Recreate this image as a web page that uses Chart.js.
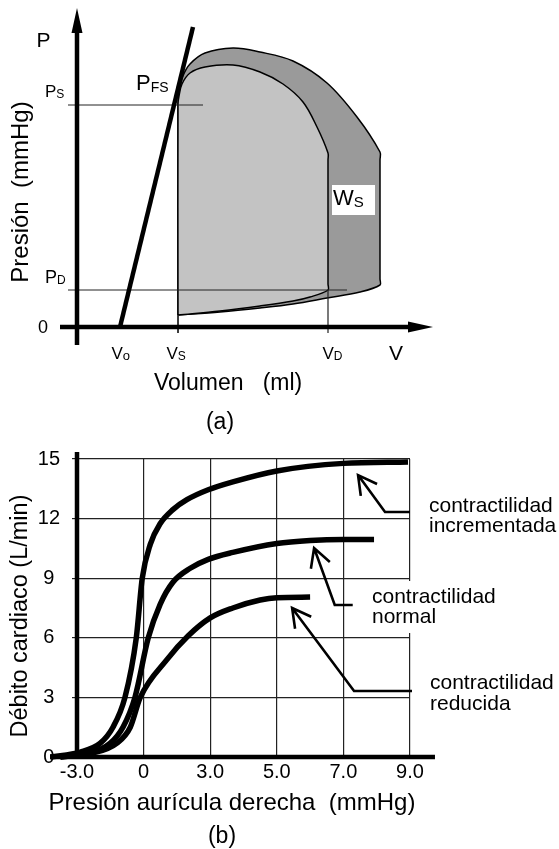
<!DOCTYPE html>
<html>
<head>
<meta charset="utf-8">
<script src="https://cdn.jsdelivr.net/npm/chart.js@4.4.1/dist/chart.umd.min.js"></script>
<style>
  html, body { margin: 0; padding: 0; background: #fff; }
  #wrap { position: relative; width: 559px; height: 849px; }
  canvas { position: absolute; left: 0; top: 0; }
</style>
</head>
<body>
<div id="wrap">
  <canvas id="chartA" width="559" height="849"></canvas>
  <canvas id="chartB" width="559" height="849"></canvas>
</div>
<script>
const FONT = "'Liberation Sans', Arial, Helvetica, sans-serif";

// ---- (a) pressure-volume loop (schematic) ----
const Vo = 21.5, Vs = 50.5, Vd = 125.5;
const Ps = 111, Pd = 18.5;
const espvrLine = [{x: 21.5, y: 0}, {x: 58, y: 150}];
const innerLoop = [
  {x: 50.5, y: 6}, {x: 50.5, y: 8}, {x: 50.5, y: 111.5}, {x: 51, y: 115.5},
  {x: 52.5, y: 121.5}, {x: 56.5, y: 127}, {x: 64, y: 130}, {x: 78, y: 131},
  {x: 91.5, y: 127.5}, {x: 103, y: 121.5}, {x: 113, y: 112.5}, {x: 120, y: 100},
  {x: 125.5, y: 87}, {x: 125.5, y: 83.5}, {x: 125.5, y: 21.5}, {x: 125.5, y: 18.5},
  {x: 116.5, y: 15}, {x: 108, y: 13}, {x: 91.5, y: 10.5}, {x: 71.5, y: 8}, {x: 50.5, y: 6}
];
const outerLoop = [
  {x: 50.5, y: 6}, {x: 50.5, y: 8}, {x: 50.5, y: 111.5}, {x: 51, y: 117.5},
  {x: 53, y: 125.5}, {x: 56.5, y: 131.5}, {x: 64, y: 137}, {x: 78, y: 139.5},
  {x: 91.5, y: 137.5}, {x: 108, y: 133}, {x: 125, y: 122}, {x: 140, y: 105},
  {x: 151.5, y: 87.5}, {x: 151.5, y: 83.5}, {x: 151.5, y: 24}, {x: 151.5, y: 21},
  {x: 141.5, y: 17.5}, {x: 125, y: 14.5}, {x: 108, y: 11.5}, {x: 91.5, y: 9.5},
  {x: 71.5, y: 7.5}, {x: 50.5, y: 6}
];

// ---- (b) cardiac output vs right atrial pressure ----
// x is the position along the evenly spaced ticks (0 = "-3.0" ... 5 = "9.0")
const xTickLabels = ['-3.0', '0', '3.0', '5.0', '7.0', '9.0'];
const increased = [
  {x: -0.4, y: 0}, {x: 0.05, y: 0.25}, {x: 0.35, y: 0.7}, {x: 0.54, y: 1.5},
  {x: 0.72, y: 3}, {x: 0.89, y: 6}, {x: 0.98, y: 9}, {x: 1.1, y: 10.7},
  {x: 1.25, y: 11.75}, {x: 1.44, y: 12.45}, {x: 1.65, y: 12.95}, {x: 1.97, y: 13.45},
  {x: 2.34, y: 13.85}, {x: 3.0, y: 14.4}, {x: 4.0, y: 14.78}, {x: 4.97, y: 14.85}
];
const normal = [
  {x: -0.25, y: 0}, {x: 0.2, y: 0.2}, {x: 0.5, y: 0.7}, {x: 0.69, y: 1.5},
  {x: 0.87, y: 3}, {x: 1.07, y: 6}, {x: 1.25, y: 7.7}, {x: 1.44, y: 8.8},
  {x: 1.7, y: 9.5}, {x: 1.97, y: 9.95}, {x: 2.34, y: 10.3}, {x: 3.0, y: 10.75},
  {x: 3.5, y: 10.9}, {x: 4.0, y: 10.95}, {x: 4.46, y: 10.95}
];
const reduced = [
  {x: -0.25, y: 0}, {x: 0.24, y: 0.2}, {x: 0.6, y: 0.7}, {x: 0.8, y: 1.5},
  {x: 0.95, y: 3}, {x: 1.35, y: 4.9}, {x: 1.67, y: 6.1}, {x: 2.0, y: 7.0},
  {x: 2.34, y: 7.5}, {x: 2.75, y: 7.9}, {x: 3.0, y: 8.02}, {x: 3.5, y: 8.05}
];
// arrows: tip first, then the bend, then the tail end
const arrowIncreased = [{x: 4.22, y: 14.19}, {x: 4.625, y: 12.33}, {x: 5.0, y: 12.33}];
const arrowNormal = [{x: 3.56, y: 10.52}, {x: 3.87, y: 7.65}, {x: 4.14, y: 7.65}];
const arrowReduced = [{x: 3.23, y: 7.5}, {x: 4.16, y: 3.32}, {x: 5.03, y: 3.32}];

function text(ctx, s, x, y, size, align) {
  ctx.font = size + 'px ' + FONT;
  ctx.textAlign = align || 'left';
  ctx.textBaseline = 'alphabetic';
  ctx.fillText(s, x, y);
}

// letter with a smaller subscript right after it
function subText(ctx, main, sub, x, y, size, subSize, dy) {
  text(ctx, main, x, y, size);
  const w = ctx.measureText(main).width;
  text(ctx, sub, x + w, y + dy, subSize);
}

function vText(ctx, s, x, y, size) {
  ctx.save();
  ctx.translate(x, y);
  ctx.rotate(-Math.PI / 2);
  text(ctx, s, 0, 0, size, 'center');
  ctx.restore();
}

const lineDs = (data, width, order, color) => ({
  data, showLine: true, borderColor: color || '#000', borderWidth: width,
  pointRadius: 0, fill: false, tension: 0, order, clip: false
});

const panelA = {
  id: 'panelA',
  afterDatasetsDraw(chart) {
    const {ctx, scales: {x, y}} = chart;
    ctx.save();
    ctx.fillStyle = '#000';
    ctx.strokeStyle = '#000';
    // axes with arrow heads
    const x0 = x.getPixelForValue(0), y0 = y.getPixelForValue(0);
    ctx.lineWidth = 4.5;
    ctx.beginPath();
    ctx.moveTo(x.left, y0); ctx.lineTo(x.right - 20, y0);
    ctx.moveTo(x0, y.bottom); ctx.lineTo(x0, y.top + 20);
    ctx.stroke();
    ctx.beginPath();
    ctx.moveTo(x.right, y0); ctx.lineTo(x.right - 25, y0 - 5.5); ctx.lineTo(x.right - 25, y0 + 5.5);
    ctx.closePath();
    ctx.moveTo(x0, y.top); ctx.lineTo(x0 - 5.5, y.top + 25); ctx.lineTo(x0 + 5.5, y.top + 25);
    ctx.closePath();
    ctx.fill();

    // W_S label on white
    ctx.fillStyle = '#fff';
    ctx.fillRect(332, 185, 43, 30);
    ctx.fillStyle = '#000';
    subText(ctx, 'W', 'S', 333, 205, 22, 15, 2);

    text(ctx, 'P', 36.5, 47, 21);
    subText(ctx, 'P', 'S', 45, y.getPixelForValue(Ps) - 8, 17, 12, 1);
    subText(ctx, 'P', 'FS', 136, 90, 22, 14, 2);
    subText(ctx, 'P', 'D', 45, y.getPixelForValue(Pd) - 7, 18, 12, 1);
    text(ctx, '0', 43, y0 + 6, 18, 'center');
    subText(ctx, 'V', 'o', x.getPixelForValue(Vo) - 8.5, 359, 17, 13, 1);
    subText(ctx, 'V', 'S', x.getPixelForValue(Vs) - 11.5, 359, 17, 12, 1);
    subText(ctx, 'V', 'D', x.getPixelForValue(Vd) - 5.5, 359, 17, 12, 1);
    text(ctx, 'V', 396, 360, 21, 'center');
    text(ctx, 'Volumen   (ml)', 154, 390, 23);
    text(ctx, '(a)', 220, 429, 23, 'center');
    vText(ctx, 'Presión  (mmHg)', 28, 192, 24);
    ctx.restore();
  }
};

new Chart(document.getElementById('chartA'), {
  type: 'scatter',
  data: {
    datasets: [
      {data: outerLoop, showLine: true, borderColor: '#000', borderWidth: 1.5, backgroundColor: '#9a9a9a',
       fill: 'shape', pointRadius: 0, tension: 0.35, order: 6},
      {data: innerLoop, showLine: true, borderColor: '#000', borderWidth: 1.5, backgroundColor: '#c3c3c3',
       fill: 'shape', pointRadius: 0, tension: 0.35, order: 5},
      lineDs([{x: -4.5, y: Ps}, {x: 63, y: Ps}], 1, 3, '#222'),
      lineDs([{x: -4.5, y: Pd}, {x: 135, y: Pd}], 1, 3, '#222'),
      lineDs([{x: Vs, y: 6}, {x: Vs, y: -3}], 1, 3, '#222'),
      lineDs([{x: Vd, y: Pd}, {x: Vd, y: -3}], 1.2, 3, '#222'),
      lineDs(espvrLine, 4.5, 1)
    ]
  },
  options: {
    responsive: false,
    animation: false,
    layout: {padding: {left: 60, right: 126, top: 8, bottom: 504}},
    scales: {
      x: {type: 'linear', display: false, min: -8.5, max: 178},
      y: {type: 'linear', display: false, min: -9, max: 159.5}
    },
    plugins: {legend: {display: false}, tooltip: {enabled: false}}
  },
  plugins: [panelA]
});

// ---- chart (b) ----
function arrow(ctx, pts, xs, ys) {
  const p = pts.map(q => [xs.getPixelForValue(q.x), ys.getPixelForValue(q.y)]);
  ctx.beginPath();
  ctx.moveTo(p[0][0], p[0][1]);
  for (let i = 1; i < p.length; i++) ctx.lineTo(p[i][0], p[i][1]);
  const a = Math.atan2(p[1][1] - p[0][1], p[1][0] - p[0][0]);
  const h = 0.5, L = 21;
  ctx.moveTo(p[0][0] + L * Math.cos(a - h), p[0][1] + L * Math.sin(a - h));
  ctx.lineTo(p[0][0], p[0][1]);
  ctx.lineTo(p[0][0] + L * Math.cos(a + h), p[0][1] + L * Math.sin(a + h));
  ctx.stroke();
}

const panelB = {
  id: 'panelB',
  afterDatasetsDraw(chart) {
    const {ctx, scales: {x, y}} = chart;
    ctx.save();
    ctx.strokeStyle = '#000';
    ctx.fillStyle = '#000';
    // heavy axes
    ctx.lineWidth = 4.5;
    ctx.beginPath();
    ctx.moveTo(x.getPixelForValue(-0.405), y.getPixelForValue(0));
    ctx.lineTo(x.getPixelForValue(5.375), y.getPixelForValue(0));
    ctx.moveTo(x.getPixelForValue(0), y.getPixelForValue(0));
    ctx.lineTo(x.getPixelForValue(0), y.getPixelForValue(15.35));
    ctx.stroke();
    // arrows
    ctx.lineWidth = 2.6;
    arrow(ctx, arrowIncreased, x, y);
    arrow(ctx, arrowNormal, x, y);
    arrow(ctx, arrowReduced, x, y);
    // labels
    text(ctx, 'contractilidad', 429, 512, 21);
    text(ctx, 'incrementada', 429, 532, 21);
    ctx.fillStyle = '#fff';
    ctx.fillRect(368, 581, 130, 52);
    ctx.fillStyle = '#000';
    text(ctx, 'contractilidad', 372, 603, 21);
    text(ctx, 'normal', 372, 623, 21);
    text(ctx, 'contractilidad', 430, 689, 21);
    text(ctx, 'reducida', 430, 710, 21);
    text(ctx, 'Presión aurícula derecha  (mmHg)', 232, 810, 24, 'center');
    text(ctx, '(b)', 222, 843, 23, 'center');
    vText(ctx, 'Débito cardiaco (L/min)', 27, 616, 23.5);
    ctx.restore();
  }
};

const curve = (data) => ({
  data, showLine: true, borderColor: '#000', borderWidth: 5.5, pointRadius: 0,
  fill: false, cubicInterpolationMode: 'monotone', borderCapStyle: 'butt', clip: false
});

new Chart(document.getElementById('chartB'), {
  type: 'scatter',
  data: {datasets: [curve(increased), curve(normal), curve(reduced)]},
  options: {
    responsive: false,
    animation: false,
    layout: {padding: {left: 0, right: 149, top: 459, bottom: 0}},
    scales: {
      x: {
        type: 'linear', min: 0, max: 5,
        afterFit: s => { s.height = 92; },
        afterBuildTicks: s => { s.ticks = xTickLabels.map((_, i) => ({value: i})); },
        ticks: {callback: v => xTickLabels[v], font: {size: 20, family: FONT}, color: '#000',
                padding: 3, maxRotation: 0, autoSkip: false},
        grid: {color: '#222', lineWidth: 1.2, drawTicks: false},
        border: {display: false}
      },
      y: {
        type: 'linear', min: 0, max: 15,
        afterFit: s => { s.width = 77; },
        ticks: {stepSize: 3, font: {size: 20, family: FONT}, color: '#000', padding: 12, crossAlign: 'center'},
        grid: {color: '#222', lineWidth: 1.2, tickLength: 5},
        border: {display: false}
      }
    },
    plugins: {legend: {display: false}, tooltip: {enabled: false}}
  },
  plugins: [panelB]
});
</script>
</body>
</html>
